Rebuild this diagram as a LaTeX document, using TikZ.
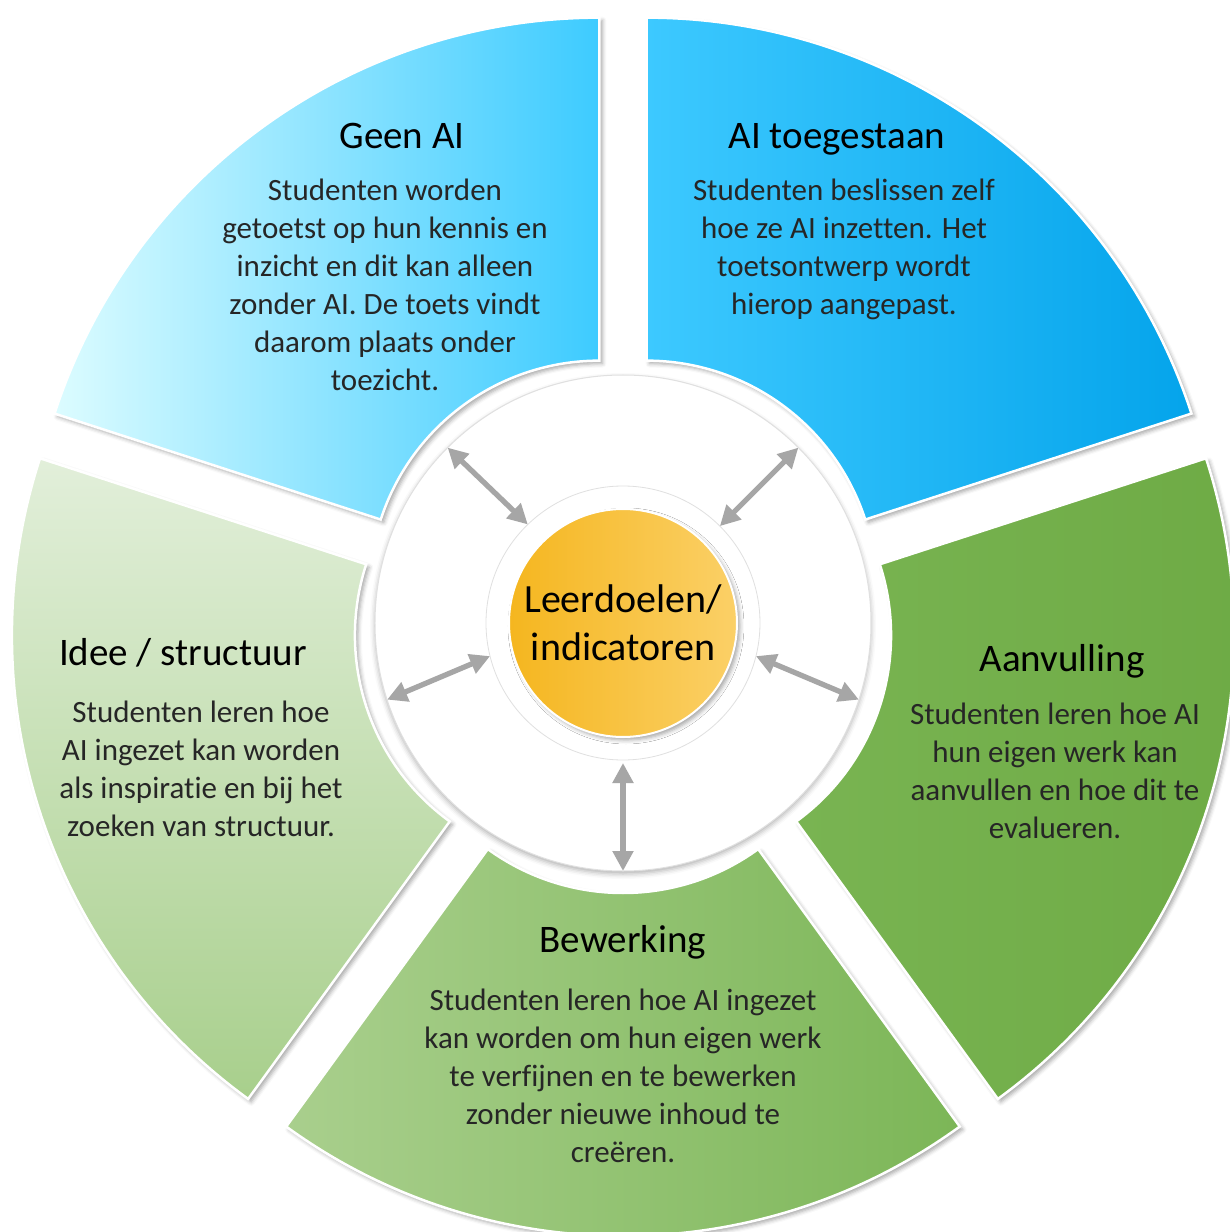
\documentclass[tikz,border=0pt]{standalone}
\usepackage{fontspec}
\setmainfont{Carlito}[Ligatures=NoCommon]
\usetikzlibrary{arrows.meta,shadows.blur}

\definecolor{geenL}{HTML}{DCFCFF}
\definecolor{geenR}{HTML}{3DCBFF}
\definecolor{toeL}{HTML}{3DC9FF}
\definecolor{toeR}{HTML}{04A4EB}
\definecolor{ideeT}{HTML}{E2EFDA}
\definecolor{ideeB}{HTML}{A8CF8C}
\definecolor{bewL}{HTML}{A9CF8D}
\definecolor{bewR}{HTML}{7CB657}
\definecolor{aanvL}{HTML}{79B452}
\definecolor{aanvR}{HTML}{6DAA44}
\definecolor{leerL}{HTML}{F5B61F}
\definecolor{leerR}{HTML}{FBD067}
\definecolor{pijl}{HTML}{A6A6A6}

\begin{document}
\begin{tikzpicture}[x=1pt,y=1pt,
    segment/.style={draw=white, line width=2.5pt,
        blur shadow={shadow xshift=3pt, shadow yshift=-3pt, shadow blur radius=4pt, shadow opacity=35}},
    geen/.style={left color=geenL, right color=geenR},
    toe/.style={left color=toeL, right color=toeR},
    idee/.style={top color=ideeT, bottom color=ideeB},
    bew/.style={left color=bewL, right color=bewR},
    aanv/.style={left color=aanvL, right color=aanvR},
    titel/.style={font=\fontsize{39}{47}\selectfont, anchor=base, inner sep=0pt},
    tekst/.style={font=\fontsize{31}{38}\selectfont, align=center, anchor=north,
        inner sep=0pt, text=black!85, execute at begin node=\strut},
    pijlstijl/.style={{Triangle[length=20pt,width=20pt]}-{Triangle[length=20pt,width=20pt]},
        draw=pijl, line width=5.3pt}
]

% Fix the size of the picture
\useasboundingbox (-623,-609) rectangle (607,623);

% Draw the five segments, each pushed a little outwards
\foreach \a/\s in {90/geen, 18/toe, 306/aanv, 234/bew, 162/idee} {
    \path[segment, \s, shift={(\a+36:40)}] (\a:230) -- (\a:573)
        arc[start angle=\a, end angle=\a+72, radius=573pt] -- (\a+72:230)
        arc[start angle=\a+72, end angle=\a, radius=230pt] -- cycle;
}

% White disk, inner ring and the centre circle
\node[circle, fill=white, draw=black!12, line width=1pt, minimum size=496pt,
    inner sep=0pt, outer sep=0pt,
    blur shadow={shadow xshift=0pt, shadow yshift=-3pt, shadow blur radius=5pt, shadow opacity=30}] (schijf) at (0,0) {};
\node[circle, draw=black!12, line width=0.8pt, minimum size=274pt,
    inner sep=0pt, outer sep=0pt] (ring) at (0,0) {};
\node[circle, left color=leerL, right color=leerR, draw=white, line width=2pt,
    minimum size=228pt, inner sep=0pt, align=center, font=\fontsize{40}{48}\selectfont,
    blur shadow={shadow xshift=3pt, shadow yshift=-3pt, shadow blur radius=4pt, shadow opacity=35}] (leer) at (0,0) {Leerdoelen/\\indicatoren};

% Arrows between the ring and the disk edge
\draw[pijlstijl] (ring.134) -- (schijf.135);
\draw[pijlstijl] (ring.45) -- (schijf.45);
\draw[pijlstijl] (ring.194) -- (schijf.198);
\draw[pijlstijl] (ring.346) -- (schijf.342);
\draw[pijlstijl, shorten <=3pt] (ring.270) -- (schijf.270);

% Geen AI
\node[titel] (geenTitel) at (-221,474) {Geen AI};
\node[tekst] (geenTekst) at (-238,444) {Studenten worden\\getoetst op hun kennis en\\inzicht en dit kan alleen\\zonder AI. De toets vindt\\daarom plaats onder\\toezicht.};

% AI toegestaan
\node[titel] (toeTitel) at (214,474) {AI toegestaan};
\node[tekst] (toeTekst) at (221,444) {Studenten beslissen zelf\\hoe ze AI inzetten. Het\\toetsontwerp wordt\\hierop aangepast.};

% Idee / structuur
\node[titel] (ideeTitel) at (-440,-42) {Idee / structuur};
\node[tekst] (ideeTekst) at (-422,-78) {Studenten leren hoe\\AI ingezet kan worden\\als inspiratie en bij het\\zoeken van structuur.};

% Aanvulling
\node[titel] (aanvTitel) at (439,-48) {Aanvulling};
\node[tekst] (aanvTekst) at (432,-80) {Studenten leren hoe AI\\hun eigen werk kan\\aanvullen en hoe dit te\\evalueren.};

% Bewerking
\node[titel] (bewTitel) at (0,-329) {Bewerking};
\node[tekst] (bewTekst) at (0,-366) {Studenten leren hoe AI ingezet\\kan worden om hun eigen werk\\te verfijnen en te bewerken\\zonder nieuwe inhoud te\\creëren.};

\end{tikzpicture}
\end{document}
